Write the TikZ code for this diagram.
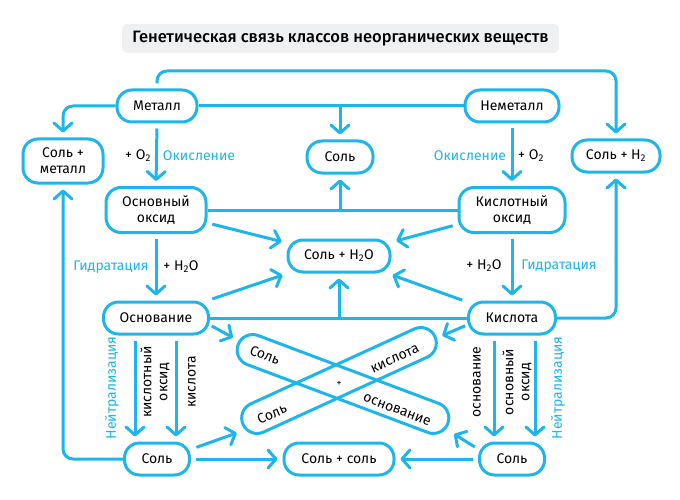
\documentclass[tikz,border=0pt]{standalone}
\usepackage{fontspec}
\setmainfont{Fira Sans}
\newfontfamily\titlefont{Fira Sans Medium}
\usetikzlibrary{arrows.meta,calc}
\definecolor{cb}{HTML}{1DB5EA}
\definecolor{tg}{HTML}{EEF0F2}
\newcommand\myNF{\fontsize{14}{16}\selectfont}
\newcommand\myTF{\titlefont\fontsize{16.5}{18}\selectfont}
\begin{document}
\begin{tikzpicture}[x=1pt,y=-1pt,
  box/.style={draw=cb, line width=3pt, rounded corners=15pt, fill=white, minimum height=32pt, inner sep=2pt, align=center, font=\myNF},
  xbox/.style={draw=cb, line width=3pt, rounded corners=15.5pt, minimum height=31pt, inner sep=0pt},
  titlebox/.style={fill=tg, rounded corners=6pt, minimum width=437pt, minimum height=29pt, inner sep=0pt, font=\myTF},
  ln/.style={draw=cb, line width=3pt},
  arr/.style={ln, -{Straight Barb[length=8pt,width=18pt,round]}, shorten >=5pt, shorten <=5pt},
  arrb/.style={arr, shorten <=0pt},
  arrc/.style={arr, shorten <=2pt, shorten >=1pt},
  lbl/.style={font=\myNF, inner sep=0pt, align=center},
  blbl/.style={lbl, text=cb}]
\useasboundingbox (0,0) rectangle (680,500);

\node[titlebox] (title) at (340.5,38.5) {Генетическая связь классов неорганических веществ};

% nodes
\node[box, minimum width=80pt] (met) at (157,106) {Металл};
\node[box, minimum width=94pt] (nmet) at (512,106) {Неметалл};
\node[box, minimum width=80pt, minimum height=44pt] (sm) at (63,161) {Соль +\\металл};
\node[box, minimum width=66pt] (s1) at (340,157) {Соль};
\node[box, minimum width=88pt] (sh) at (616,156) {Соль + H\textsubscript{2}};
\node[box, minimum width=100pt, minimum height=45pt] (bo) at (156,210) {Основный\\оксид};
\node[box, minimum width=106pt, minimum height=45pt] (ao) at (512,210) {Кислотный\\оксид};
\node[box, minimum width=102pt] (sw) at (339,256) {Соль + H\textsubscript{2}O};
\node[box, minimum width=105pt] (bs) at (156,318) {Основание};
\node[box, minimum width=87pt] (ac) at (512,318) {Кислота};
\node[box, minimum width=65pt] (sl) at (157,459) {Соль};
\node[box, minimum width=110pt] (ss) at (339,459) {Соль + соль};
\node[box, minimum width=65pt] (sr) at (512,459) {Соль};

% crossed shapes
\node[xbox, rotate=-20.6, minimum width=224pt] (x1) at (343,384) {};
\node[xbox, rotate=24.6, minimum width=211pt] (x2) at (339,380.5) {};
\node[lbl, rotate=-20.6] (x1a) at (265,355) {Соль};
\node[lbl, rotate=-20.6] (x1b) at (397,410) {основание};
\node[lbl, rotate=24.6] (x2a) at (272,414) {Соль};
\node[lbl, rotate=24.6] (x2b) at (395,359) {кислота};
\node[lbl, font=\fontsize{10}{12}\selectfont] (plus) at (339,384) {+};

% connectors
\coordinate (topc) at (340,71);
\draw[arr, rounded corners=10pt] (met.north) |- (topc) -| (sh.north);
\draw[ln] (met.east) -- (nmet.west);
\draw[arrb] (s1.north |- met.east) -- (s1.north);
\draw[arrb, rounded corners=10pt] (met.west) -| (sm.north);
\draw[arr] (met.south) -- (bo.north);
\draw[arr] (nmet.south) -- (ao.north);
\draw[ln] (bo.east) -- (ao.west);
\draw[arrb] (s1.south |- bo.east) -- (s1.south);
\draw[arr] (bo) -- (sw);
\draw[arr] (bs) -- (sw);
\draw[arr] (ao) -- (sw);
\draw[arr] (ac) -- (sw);
\draw[arr] (bo.south) -- (bs.north);
\draw[arr] (ao.south) -- (ac.north);
\draw[ln] (bs.east) -- (ac.west);
\draw[arrb] (sw.south |- bs.east) -- (sw.south);
\draw[arrb, rounded corners=10pt] (ac.east) -| (sh.south);
\draw[arrb, rounded corners=10pt] (sl.west) -| (sm.south);
\draw[arr] (sl) -- (ss);
\draw[arr] (sr) -- (ss);
\draw[arr] ($(bs.south)+(-21,0)$) -- ($(bs.south |- sl.north)+(-21,0)$);
\draw[arr] ($(bs.south)+(20,0)$) -- ($(bs.south |- sl.north)+(20,0)$);
\draw[arr] ($(ac.south)+(-18,0)$) -- ($(ac.south |- sr.north)+(-18,0)$);
\draw[arr] ($(ac.south)+(23,0)$) -- ($(ac.south |- sr.north)+(23,0)$);
\draw[arrc] ([yshift=-7pt]bs.east) -- ([shift={(-3pt,6pt)}]x1.west);
\draw[arrc] ([shift={(3.5pt,11pt)}]sl.east) -- ([shift={(-4pt,-7.6pt)}]x2.west);
\draw[arrc] ([yshift=-7pt]ac.west) -- ([shift={(5pt,0pt)}]x2.east);
\draw[arrc] ([shift={(-1.5pt,11pt)}]sr.west) -- ([shift={(4pt,-9.6pt)}]x1.east);

% labels
\node[lbl] (l1) at (138,156) {+ O\textsubscript{2}};
\node[blbl] (l2) at (199,156) {Окисление};
\node[blbl] (l3) at (470,156) {Окисление};
\node[lbl] (l4) at (531,156) {+ O\textsubscript{2}};
\node[blbl] (l5) at (111,267) {Гидратация};
\node[lbl] (l6) at (181,267) {+ H\textsubscript{2}O};
\node[lbl] (l7) at (484,266) {+ H\textsubscript{2}O};
\node[blbl] (l8) at (559,266) {Гидратация};
\node[blbl, rotate=90] (l9) at (112,388) {Нейтрализация};
\node[lbl, rotate=90] (l10) at (155,382) {кислотный\\оксид};
\node[lbl, rotate=90] (l11) at (192,382) {кислота};
\node[lbl, rotate=90] (l12) at (477,382) {основание};
\node[lbl, rotate=90] (l13) at (517,382) {основный\\оксид};
\node[blbl, rotate=90] (l14) at (558,388) {Нейтрализация};
\end{tikzpicture}
\end{document}
